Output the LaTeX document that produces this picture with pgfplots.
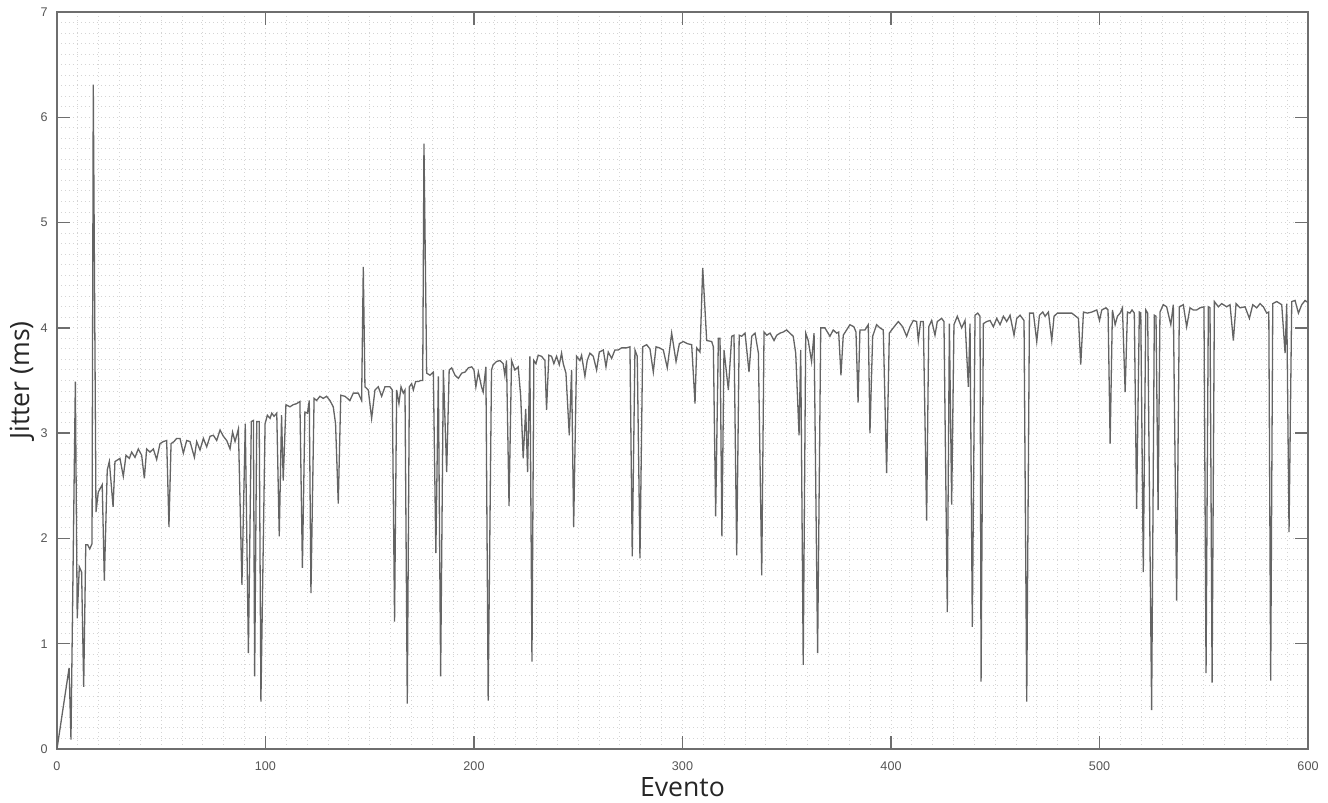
\documentclass[border=0pt]{standalone}
\usepackage{fontspec}
\setmainfont{Liberation Sans}
\newfontfamily\labelfont{Open Sans}
\usepackage{pgfplots}
\pgfplotsset{compat=1.18}
\definecolor{axgray}{RGB}{110,110,110}
\definecolor{linegray}{RGB}{100,100,100}
\definecolor{gridgray}{RGB}{212,212,212}
\definecolor{tickgray}{RGB}{85,85,85}

\begin{document}
\begin{tikzpicture}
\begin{axis}[
    name=ax,
    scale only axis,
    width=625.5pt, height=368.5pt,
    xmin=0, xmax=600, ymin=0, ymax=7,
    xtick={0,100,...,600}, ytick={0,1,...,7},
    minor x tick num=9, minor y tick num=9,
    grid=both,
    major grid style={gridgray, dash pattern=on 0.5pt off 1.5pt, line width=0.5pt},
    minor grid style={gridgray, dash pattern=on 0.5pt off 1.5pt, line width=0.5pt},
    major tick length=6.5pt, minor tick length=0pt,
    tick align=inside,
    tick style={axgray, line width=0.7pt},
    axis line style={axgray, line width=0.8pt},
    ticklabel style={font=\fontsize{6.3}{7}\selectfont, text=tickgray},
    x tick label style={yshift=-2.6pt},
    y tick label style={xshift=-1.1pt},
    /pgf/number format/assume math mode=true,
    xlabel={Evento}, ylabel={Jitter (ms)},
    label style={font=\labelfont\fontsize{13.3}{15}\selectfont, text=black!85},
    xlabel style={at={(axis description cs:0.5,-0.0516)}, anchor=center},
    ylabel style={at={(axis description cs:-0.028,0.5)}, anchor=center},
]
\addplot[linegray, line width=0.65pt] coordinates {
(0,0) (5.8,0.77) (6.7,0.09) (8.8,3.49) (9.7,1.24) (10.7,1.73) (11.8,1.68) (12.8,0.59)
(13.8,1.94) (14.7,1.94) (15.7,1.90) (16.8,1.95) (17.4,6.31) (18.7,2.25) (19.8,2.44)
(21.7,2.51) (22.7,1.60) (24.1,2.65) (25.1,2.73) (26.9,2.30) (27.8,2.73) (30.2,2.76)
(31.8,2.59) (33.1,2.79) (34.7,2.76) (35.8,2.82) (37.4,2.77) (39.0,2.85) (40.6,2.79)
(41.9,2.57) (43.0,2.85) (44.6,2.82) (46.2,2.85) (47.8,2.75) (49.4,2.90) (51.0,2.92)
(52.6,2.93) (53.7,2.11) (54.7,2.90) (56.1,2.92) (57.4,2.95) (59.0,2.95) (60.6,2.81)
(62.2,2.93) (63.8,2.92) (65.9,2.77) (67.0,2.92) (68.6,2.84) (70.2,2.95) (71.8,2.87)
(73.4,2.97) (75.0,2.98) (76.6,2.93) (78.2,3.03) (79.8,2.97) (81.4,2.93) (83.0,2.85)
(84.2,3.01) (85.4,2.92) (87.0,3.04) (88.7,1.56) (90.3,3.09) (91.8,0.91) (93.2,3.11)
(94.2,3.12) (94.8,0.69) (95.8,3.11) (97.0,3.11) (97.8,0.45) (99.8,3.09) (100.9,3.17)
(102.2,3.14) (103.0,3.19) (104.1,3.16) (105.4,3.19) (106.6,2.02) (107.7,3.17) (108.5,2.55)
(109.8,3.27) (111.7,3.25) (113.3,3.27) (114.9,3.28) (116.5,3.30) (117.7,1.72) (118.9,3.20)
(120.1,3.19) (121.0,3.31) (121.8,1.48) (123.3,3.33) (124.5,3.31) (126.1,3.35) (127.7,3.33)
(129.3,3.35) (130.9,3.31) (132.5,3.25) (133.6,3.09) (134.9,2.33) (136.1,3.36) (138.1,3.35)
(140.5,3.31) (142.1,3.38) (144.5,3.38) (146.1,3.31) (146.9,4.58) (147.7,3.44) (149.3,3.41)
(150.9,3.14) (152.5,3.41) (154.1,3.44) (155.7,3.35) (157.3,3.44) (159.7,3.44) (160.8,3.41)
(161.9,1.21) (162.9,3.41) (164.0,3.28) (165.0,3.44) (166.1,3.38) (166.9,3.41) (168.0,0.43)
(169.0,3.44) (170.1,3.47) (170.9,3.41) (172.0,3.49) (173.3,3.49) (174.4,3.50) (175.4,3.50)
(176.0,5.75) (177.3,3.57) (178.9,3.55) (180.5,3.58) (181.7,1.86) (182.9,3.54) (184.0,0.69)
(185.3,3.60) (186.9,2.63) (188.1,3.60) (189.3,3.62) (190.9,3.55) (192.5,3.52) (194.1,3.57)
(195.7,3.58) (197.3,3.62) (198.9,3.63) (200.0,3.60) (200.9,3.44) (202.1,3.58) (203.6,3.44)
(204.4,3.39) (205.7,3.63) (206.8,0.46) (208.4,3.60) (209.2,3.65) (210.8,3.68) (212.4,3.69)
(214.0,3.66) (214.8,3.55) (215.6,3.69) (216.8,2.31) (218.0,3.69) (219.6,3.60) (221.2,3.63)
(222.4,3.35) (223.6,2.76) (224.8,3.23) (225.7,2.63) (226.8,3.73) (227.8,0.83) (228.7,3.69)
(229.7,3.66) (230.8,3.74) (232.4,3.73) (234.0,3.69) (234.8,3.22) (235.9,3.74) (237.2,3.73)
(238.3,3.66) (239.6,3.73) (240.9,3.65) (242.0,3.76) (242.8,3.66) (244.1,3.57) (245.7,2.98)
(246.8,3.60) (247.8,2.11) (249.2,3.73) (250.8,3.69) (251.6,3.74) (253.2,3.54) (254.3,3.69)
(255.6,3.76) (257.2,3.73) (258.8,3.60) (260.1,3.77) (262.0,3.79) (263.3,3.63) (264.4,3.77)
(266.0,3.71) (267.6,3.79) (269.2,3.79) (270.8,3.81) (273.2,3.81) (274.8,3.82) (275.9,1.83)
(277.2,3.79) (278.3,3.73) (279.6,1.81) (280.9,3.82) (282.8,3.84) (284.4,3.80) (286.0,3.58)
(287.3,3.82) (288.9,3.81) (290.8,3.79) (292.7,3.62) (294.8,3.95) (296.9,3.68) (298.5,3.85)
(300.4,3.87) (302.3,3.85) (304.4,3.84) (306.0,3.28) (306.8,3.81) (308.4,3.77) (309.7,4.57)
(311.6,3.88) (314.0,3.87) (314.8,3.82) (315.9,2.21) (317.2,3.90) (318.0,3.90) (318.9,2.02)
(319.9,3.79) (322.0,3.41) (323.6,3.92) (324.7,3.93) (326.0,1.84) (327.2,3.93) (328.4,3.92)
(330.0,3.95) (331.9,3.58) (333.2,3.92) (334.8,3.95) (336.4,3.76) (338.0,1.65) (339.1,3.96)
(340.4,3.93) (342.0,3.95) (343.9,3.88) (345.2,3.93) (346.8,3.95) (348.3,3.96) (349.9,3.98)
(351.5,3.95) (353.1,3.92) (354.3,3.76) (355.9,2.98) (356.7,3.79) (357.9,0.80) (359.1,3.95)
(360.3,3.88) (361.9,3.68) (363.1,3.95) (364.8,0.91) (366.3,4.00) (368.3,4.00) (370.7,3.92)
(372.3,3.98) (373.9,3.95) (374.9,3.96) (376.0,3.55) (377.1,3.93) (378.7,3.98) (380.3,4.03)
(382.2,4.01) (383.2,3.96) (384.2,3.29) (385.1,3.98) (387.5,3.98) (389.1,4.03) (389.9,3.00)
(391.2,3.92) (393.1,4.03) (394.7,4.00) (396.3,3.98) (397.9,2.62) (399.2,3.95) (401.1,4.00)
(403.5,4.06) (405.6,4.01) (407.5,3.92) (409.1,4.01) (410.7,4.07) (412.3,4.06) (413.1,3.88)
(414.2,4.06) (415.5,4.06) (417.1,2.17) (418.1,4.01) (419.5,4.07) (421.1,3.93) (422.2,4.06)
(424.3,4.09) (425.4,4.06) (427.0,1.30) (428.0,4.04) (429.1,2.32) (430.2,4.03) (431.8,4.11)
(433.9,4.00) (435.5,4.07) (437.1,3.44) (437.9,4.04) (439.0,1.16) (440.3,4.12) (441.6,4.14)
(442.7,4.11) (443.2,0.64) (444.3,4.04) (445.9,4.06) (447.5,4.07) (449.1,4.01) (450.7,4.09)
(452.3,4.03) (453.9,4.11) (455.5,4.06) (457.1,4.12) (459.0,3.93) (460.3,4.09) (461.9,4.12)
(463.8,4.07) (465.1,0.45) (466.4,4.14) (468.3,4.14) (469.9,3.87) (471.2,4.12) (472.8,4.15)
(473.9,4.11) (475.5,4.15) (477.1,3.88) (478.2,4.11) (479.8,4.14) (481.9,4.14) (484.3,4.14)
(486.7,4.14) (489.9,4.09) (491.0,3.65) (492.3,4.15) (494.2,4.14) (496.3,4.15) (498.7,4.17)
(500.0,4.07) (501.1,4.17) (503.1,4.19) (504.1,4.17) (505.1,2.90) (506.2,4.17) (507.5,4.03)
(508.6,4.11) (509.9,4.14) (511.0,4.19) (512.3,3.39) (513.4,4.15) (514.6,4.14) (515.6,4.17)
(516.7,4.14) (517.8,2.28) (519.1,4.15) (519.8,4.14) (521.0,1.68) (522.2,4.17) (523.1,4.14)
(525.0,0.37) (526.3,4.12) (527.1,4.11) (528.1,2.27) (529.0,4.15) (530.6,4.22) (532.2,4.20)
(534.2,4.03) (535.4,4.22) (537.0,1.41) (538.3,4.20) (540.2,4.22) (541.8,4.01) (543.4,4.19)
(545.0,4.17) (546.6,4.17) (548.2,4.19) (550.1,4.20) (551.1,0.72) (552.2,4.20) (553.0,4.19)
(554.0,0.63) (555.1,4.25) (557.0,4.20) (558.6,4.23) (561.0,4.20) (562.6,4.22) (564.2,3.88)
(565.5,4.23) (567.4,4.19) (569.8,4.20) (571.9,4.09) (573.5,4.22) (575.4,4.19) (577.0,4.23)
(578.6,4.20) (580.2,4.14) (581.2,4.15) (582.1,0.65) (583.1,4.23) (585.0,4.25) (587.4,4.22)
(589.0,3.76) (589.8,4.23) (590.9,2.06) (592.2,4.25) (593.8,4.26) (595.4,4.14) (597.0,4.22)
(598.6,4.26) (600.0,4.24)
};
\end{axis}
\pgfresetboundingbox
\path ([xshift=-28.5pt,yshift=-27pt]ax.south west) rectangle ([xshift=10pt,yshift=6pt]ax.north east);
\end{tikzpicture}
\end{document}
